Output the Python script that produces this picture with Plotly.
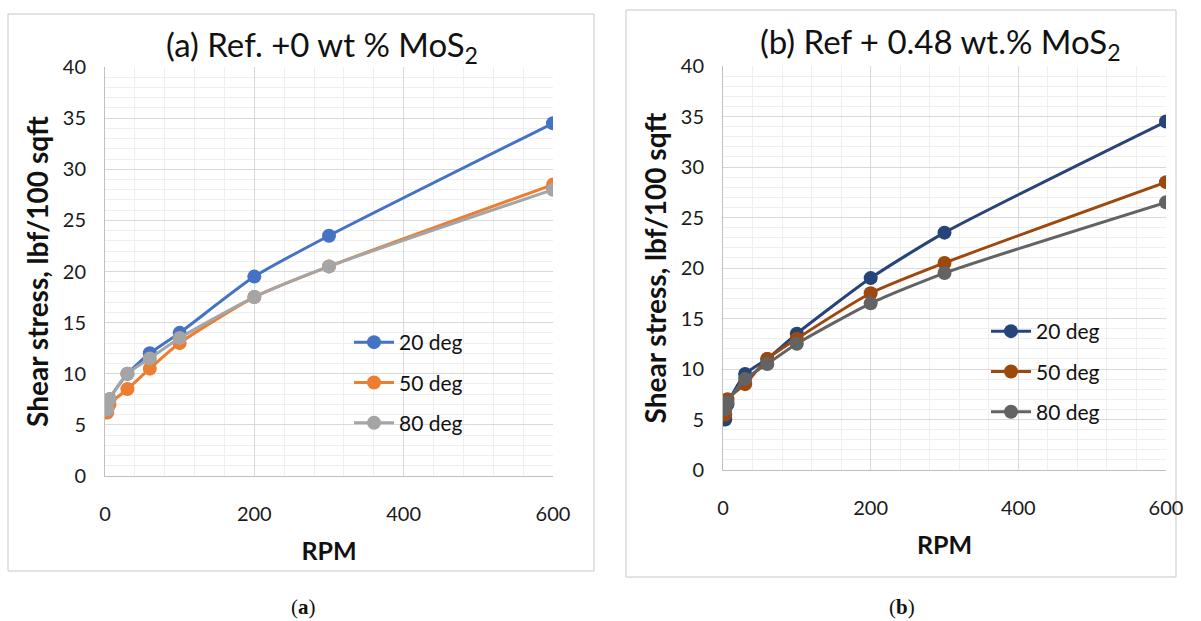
import plotly.graph_objects as go

# Shear stress vs rotor speed, two fluids at three temperatures
rpm = [3, 6, 30, 60, 100, 200, 300, 600]

series_names = ["20 deg", "50 deg", "80 deg"]

ref_20 = [6.5, 7.5, 10, 12, 14, 19.5, 23.5, 34.5]
ref_50 = [6.2, 7.0, 8.5, 10.5, 13, 17.5, 20.5, 28.5]
ref_80 = [6.5, 7.5, 10, 11.5, 13.5, 17.5, 20.5, 28]

mos2_20 = [5.0, 6.5, 9.5, 11, 13.5, 19, 23.5, 34.5]
mos2_50 = [5.5, 7.0, 8.5, 11, 13, 17.5, 20.5, 28.5]
mos2_80 = [6.0, 6.7, 9.0, 10.5, 12.5, 16.5, 19.5, 26.5]

x_ticks = [0, 200, 400, 600]
y_ticks = [0, 5, 10, 15, 20, 25, 30, 35, 40]

colors_a = ["#4472C4", "#ED7D31", "#A5A5A5"]
colors_b = ["#264478", "#9E480E", "#636363"]

W, H = 1201, 621
FONT = "Lato, 'Open Sans', sans-serif"


def px(v):
    return v / W


def py(v):
    return 1 - v / H


fig = go.Figure()

panels = [
    ([ref_20, ref_50, ref_80], colors_a, "x", "y", "legend"),
    ([mos2_20, mos2_50, mos2_80], colors_b, "x2", "y2", "legend2"),
]

for values, colors, xa, ya, leg in panels:
    for name, ys, col in zip(series_names, values, colors):
        fig.add_trace(
            go.Scatter(
                x=rpm, y=ys, name=name, mode="lines+markers",
                xaxis=xa, yaxis=ya, legend=leg, legendgroup=leg + name,
                line=dict(color=col, width=3, shape="spline", smoothing=0.6),
                marker=dict(color=col, size=14),
            )
        )

axis_common = dict(
    showline=True, linecolor="#bfbfbf", linewidth=1,
    showgrid=True, gridcolor="#d9d9d9", gridwidth=1,
    zeroline=False, ticks="", automargin=False,
    tickfont=dict(family=FONT, size=20, color="#1a1a1a"),
    fixedrange=True,
)

x_common = dict(
    axis_common, range=[0, 600], tickvals=x_ticks,
    minor=dict(dtick=40, tick0=0, showgrid=True, gridcolor="#efefef", gridwidth=1),
    ticklabelstandoff=20,
    title=dict(text="<b>RPM</b>", font=dict(family=FONT, size=25, color="#111"), standoff=18),
)
y_common = dict(
    axis_common, range=[0, 40], tickvals=y_ticks,
    minor=dict(dtick=1, tick0=0, showgrid=True, gridcolor="#efefef", gridwidth=1),
    ticklabelstandoff=14,
    title=dict(text="<b>Shear stress, lbf/100 sqft</b>",
               font=dict(family=FONT, size=28, color="#111"), standoff=5),
)

legend_common = dict(
    xanchor="left", yanchor="top", bgcolor="rgba(0,0,0,0)",
    font=dict(family=FONT, size=21, color="#111"),
    tracegroupgap=10, itemwidth=40,
)

fig.update_layout(
    width=W, height=H,
    margin=dict(l=0, r=0, t=0, b=0, autoexpand=False),
    paper_bgcolor="white", plot_bgcolor="white",
    showlegend=True,
    xaxis=dict(x_common, domain=[px(105), px(553)], anchor="y"),
    yaxis=dict(y_common, domain=[py(476), py(67)], anchor="x"),
    xaxis2=dict(x_common, domain=[px(723), px(1166)], anchor="y2"),
    yaxis2=dict(y_common, domain=[py(470), py(66)], anchor="x2"),
    legend=dict(legend_common, x=px(349), y=py(322)),
    legend2=dict(legend_common, x=px(986), y=py(311)),
    shapes=[
        dict(type="rect", xref="paper", yref="paper",
             x0=px(8), x1=px(594), y0=py(571), y1=py(14),
             line=dict(color="#c8c8c8", width=1), layer="below"),
        dict(type="rect", xref="paper", yref="paper",
             x0=px(626), x1=px(1176), y0=py(577), y1=py(10),
             line=dict(color="#c8c8c8", width=1), layer="below"),
    ],
    annotations=[
        dict(text="(a) Ref. +0 wt % MoS<sub>2</sub>", x=px(322), y=py(46),
             xref="paper", yref="paper", showarrow=False,
             xanchor="center", yanchor="middle",
             font=dict(family=FONT, size=33, color="#111")),
        dict(text="(b) Ref + 0.48 wt.% MoS<sub>2</sub>", x=px(940), y=py(44),
             xref="paper", yref="paper", showarrow=False,
             xanchor="center", yanchor="middle",
             font=dict(family=FONT, size=33, color="#111")),
        dict(text="(<b>a</b>)", x=px(303), y=py(607), xref="paper", yref="paper",
             showarrow=False, xanchor="center", yanchor="middle",
             font=dict(family="'Liberation Serif', serif", size=21, color="#111")),
        dict(text="(<b>b</b>)", x=px(902), y=py(607), xref="paper", yref="paper",
             showarrow=False, xanchor="center", yanchor="middle",
             font=dict(family="'Liberation Serif', serif", size=21, color="#111")),
    ],
)

fig.write_html("out.html")
